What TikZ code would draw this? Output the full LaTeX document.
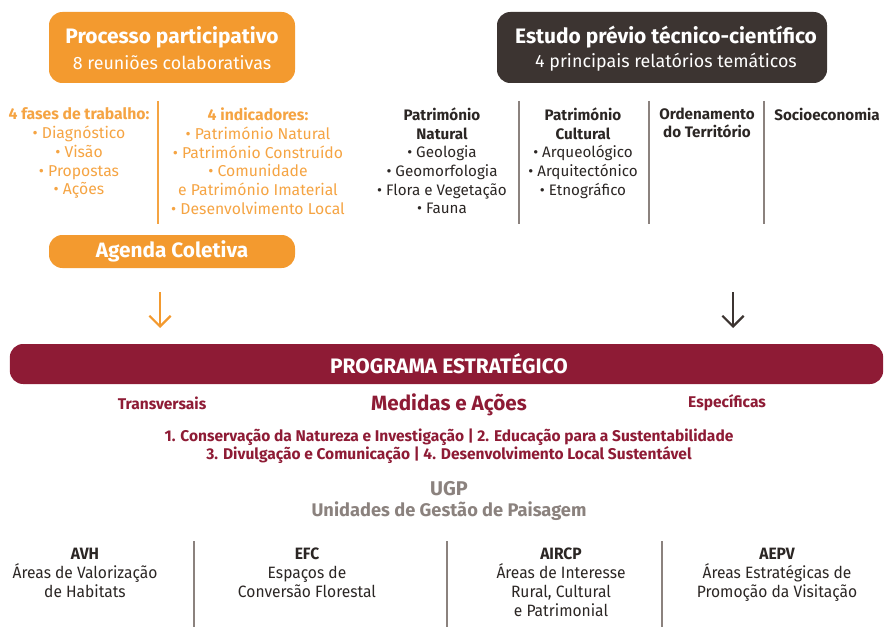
\documentclass[tikz,border=0pt]{standalone}
\usepackage{fontspec}
\setmainfont{Fira Sans}
\newfontfamily\condfont[FakeStretch=0.95]{Fira Sans}
\usetikzlibrary{arrows.meta}
\definecolor{laranja}{HTML}{F39A2F}
\definecolor{laranjaclaro}{HTML}{F5A443}
\definecolor{castanho}{HTML}{3C3431}
\definecolor{bordeus}{HTML}{8E1B35}
\definecolor{cinza}{HTML}{8B827E}
\definecolor{texto}{HTML}{2B2624}

\begin{document}
\begin{tikzpicture}[x=0.75pt,y=-0.75pt,
    caixa/.style={rounded corners=10pt,inner sep=0pt},
    titulo/.style={text=white,font=\bfseries\fontsize{15.7}{18}\selectfont},
    subtitulo/.style={text=white,font=\fontsize{13.4}{16}\selectfont},
    coluna/.style={anchor=north,align=center,inner sep=0pt},
    colorange/.style={coluna,text=laranjaclaro,font=\fontsize{11.8}{14.1}\selectfont},
    coldark/.style={coluna,text=texto,font=\fontsize{11.4}{14}\selectfont},
    separador/.style={line width=1pt},
    seta/.style={line width=1.6pt,-{Straight Barb[length=8pt,width=16pt,line width=1.6pt]}},
    vermelho/.style={text=bordeus,font=\bfseries\fontsize{11.65}{13.5}\selectfont},
    ugp/.style={anchor=north,align=center,inner sep=0pt,text=texto,font=\condfont\fontsize{12.3}{14.2}\selectfont}]
  \useasboundingbox (0,0) rectangle (884,627);

  % topo
  \node[caixa,fill=laranja,minimum width=184.5pt,minimum height=53.25pt] (pp) at (172,47.5) {};
  \node[titulo] (ppt) at (172,37) {Processo participativo};
  \node[subtitulo] (pps) at (172,62.5) {8 reuniões colaborativas};
  \node[caixa,fill=castanho,minimum width=247.5pt,minimum height=53.25pt] (ep) at (662,47.5) {};
  \node[titulo] (ept) at (666,37) {Estudo prévio técnico-científico};
  \node[subtitulo] (eps) at (666,62.5) {4 principais relatórios temáticos};

  \node[colorange] (fases) at (79,107.5) {{\bfseries 4 fases de trabalho:}\\• Diagnóstico\\• Visão\\• Propostas\\• Ações};
  \node[colorange] (indic) at (258,107.5) {{\bfseries 4 indicadores:}\\• Património Natural\\• Património Construído\\• Comunidade\\e Património Imaterial\\• Desenvolvimento Local};
  \draw[separador,laranjaclaro] (158,101) -- (158,224);

  \node[coldark] (natural) at (442,107.5) {{\bfseries Património}\\{\bfseries Natural}\\• Geologia\\• Geomorfologia\\• Flora e Vegetação\\• Fauna};
  \node[coldark] (cultural) at (583,107.5) {{\bfseries Património}\\{\bfseries Cultural}\\• Arqueológico\\• Arquitectónico\\• Etnográfico};
  \node[coldark] (ordem) at (707,107.5) {{\bfseries Ordenamento}\\{\bfseries do Território}};
  \node[coldark] (socio) at (827,107.5) {{\bfseries Socioeconomia}};
  \foreach \x in {519,649,764}
    \draw[separador,cinza] (\x,101) -- (\x,224);

  \node[caixa,fill=laranja,minimum width=184.5pt,minimum height=24.75pt] (agenda) at (172,251.5) {};
  \node[titulo,font=\bfseries\fontsize{15.6}{18}\selectfont] (agendat) at (172,251.5) {Agenda Coletiva};

  % setas
  \coordinate (sa) at (160,292);
  \coordinate (sb) at (733,292);
  \draw[seta,laranja] (sa) -- ++(0,36);
  \draw[seta,castanho] (sb) -- ++(0,36);

  % programa
  \node[caixa,fill=bordeus,minimum width=655pt,minimum height=30pt] (prog) at (446.5,364) {};
  \node[text=white,font=\bfseries\fontsize{15.7}{18}\selectfont] (progt) at (449,364) {PROGRAMA ESTRATÉGICO};
  \node[vermelho] (transv) at (162,403) {Transversais};
  \node[vermelho,font=\bfseries\fontsize{15.5}{18}\selectfont] (medidas) at (449,405) {Medidas e Ações};
  \node[vermelho] (espec) at (727,403) {Específicas};
  \node[vermelho,align=center,anchor=north,inner sep=0pt] (lista) at (449,428.5) {1. Conservação da Natureza e Investigação | 2. Educação para a Sustentabilidade\\3. Divulgação e Comunicação | 4. Desenvolvimento Local Sustentável};

  % ugp
  \node[text=cinza,font=\bfseries\fontsize{14.9}{16}\selectfont] (ugpt) at (449,489) {UGP};
  \node[text=cinza,font=\bfseries\fontsize{13.7}{16}\selectfont] (ugps) at (449,511) {Unidades de Gestão de Paisagem};
  \node[ugp] (avh) at (85,547.5) {{\bfseries AVH}\\Áreas de Valorização\\de Habitats};
  \node[ugp] (efc) at (307,547.5) {{\bfseries EFC}\\Espaços de\\Conversão Florestal};
  \node[ugp] (aircp) at (561,547.5) {{\bfseries AIRCP}\\Áreas de Interesse\\Rural, Cultural\\e Patrimonial};
  \node[ugp] (aepv) at (777,547.5) {{\bfseries AEPV}\\Áreas Estratégicas de\\Promoção da Visitação};
  \foreach \x in {194,447,662}
    \draw[separador,cinza] (\x,541) -- (\x,627);
\end{tikzpicture}
\end{document}
